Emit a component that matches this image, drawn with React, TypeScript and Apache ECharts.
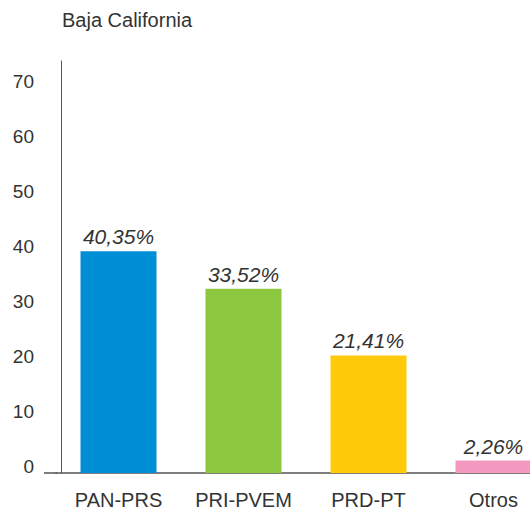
import React, { useEffect, useRef } from "react";
import * as echarts from "echarts";

const categories = ["PAN-PRS", "PRI-PVEM", "PRD-PT", "Otros"];
const values = [40.35, 33.52, 21.41, 2.26];
const barColors = ["#008ED6", "#8DC63F", "#FFCA0A", "#F49AC1"];
const titleText = "Baja California";

const FONT = "'Liberation Sans', Arial, Helvetica, sans-serif";

export default function App() {
  const ref = useRef<HTMLDivElement>(null);
  useEffect(() => {
    if (!ref.current) return;
    const chart = echarts.init(ref.current, undefined, { renderer: "svg" });
    chart.setOption({
      animation: false,
      backgroundColor: "#ffffff",
      title: {
        text: titleText,
        left: 62,
        top: 10,
        padding: 0,
        textStyle: { fontFamily: FONT, fontSize: 20, fontWeight: "normal", color: "#333333" },
      },
      grid: { left: 56, right: 4, top: 61, bottom: 37, containLabel: false },
      xAxis: {
        type: "category",
        data: categories,
        axisLine: { show: true, lineStyle: { color: "#555555", width: 1.5 } },
        axisTick: { show: false },
        axisLabel: { fontFamily: FONT, fontSize: 20, color: "#333333", margin: 17, interval: 0 },
        splitLine: { show: false },
      },
      yAxis: {
        type: "value",
        min: 0,
        max: 75,
        interval: 10,
        offset: -5,
        axisLine: { show: true, lineStyle: { color: "#555555", width: 1 } },
        axisTick: { show: false },
        splitLine: { show: false },
        axisLabel: {
          fontFamily: FONT,
          fontSize: 19,
          color: "#333333",
          margin: 27,
          showMaxLabel: false,
          verticalAlign: "bottom",
          lineHeight: 13,
          formatter: (v: number) => (v > 70 ? "" : String(v)),
        },
      },
      graphic: [
        {
          type: "line",
          shape: { x1: 44, y1: 473, x2: 57, y2: 473 },
          style: { stroke: "#555555", lineWidth: 1.5 },
        },
      ],
      series: [
        {
          type: "bar",
          barWidth: 76,
          data: values.map((v, i) => ({ value: v, itemStyle: { color: barColors[i] } })),
          label: {
            show: true,
            position: "top",
            distance: 4,
            fontFamily: FONT,
            fontSize: 21,
            fontStyle: "italic",
            color: "#333333",
            formatter: (p: any) => String(p.value.toFixed(2)).replace(".", ",") + "%",
          },
        },
      ],
    });
    return () => chart.dispose();
  }, []);
  return (
    <div
      style={{
        position: "absolute",
        left: 0,
        top: 0,
        width: 530,
        height: 510,
        overflow: "hidden",
      }}
    >
      <div ref={ref} style={{ width: 560, height: 510 }} />
    </div>
  );
}
